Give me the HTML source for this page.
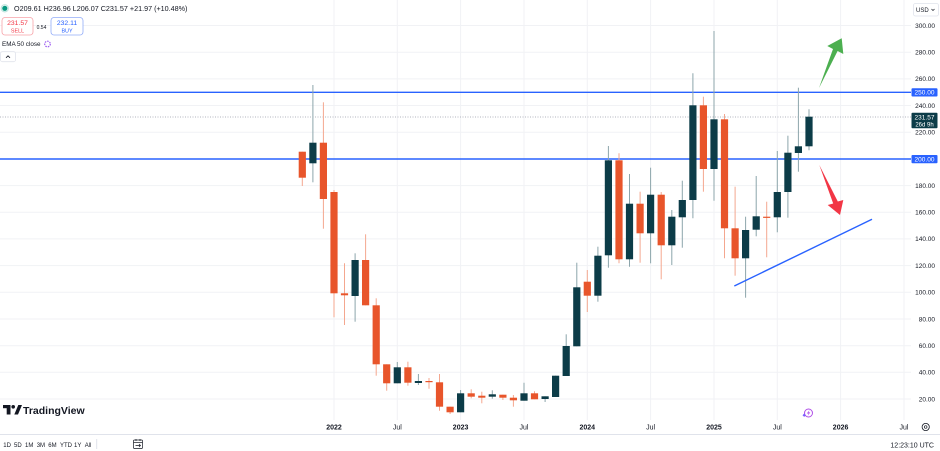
<!DOCTYPE html>
<html><head><meta charset="utf-8"><style>
html,body{margin:0;padding:0;background:#fff;}
body{width:940px;height:451px;overflow:hidden;font-family:"Liberation Sans",sans-serif;}
svg{display:block;}
text{font-family:"Liberation Sans",sans-serif;}
</style></head><body>
<svg width="940" height="451" viewBox="0 0 940 451" xmlns="http://www.w3.org/2000/svg">
<rect x="0" y="0" width="940" height="451" fill="#fff"/>
<!-- horizontal grid -->
<g stroke="#f1f2f5" stroke-width="1">
<line x1="0" y1="25.5" x2="911" y2="25.5"/><line x1="0" y1="52.2" x2="911" y2="52.2"/><line x1="0" y1="78.9" x2="911" y2="78.9"/><line x1="0" y1="105.5" x2="911" y2="105.5"/><line x1="0" y1="132.2" x2="911" y2="132.2"/><line x1="0" y1="185.6" x2="911" y2="185.6"/><line x1="0" y1="212.3" x2="911" y2="212.3"/><line x1="0" y1="238.9" x2="911" y2="238.9"/><line x1="0" y1="265.6" x2="911" y2="265.6"/><line x1="0" y1="292.3" x2="911" y2="292.3"/><line x1="0" y1="319" x2="911" y2="319"/><line x1="0" y1="345.7" x2="911" y2="345.7"/><line x1="0" y1="372.3" x2="911" y2="372.3"/><line x1="0" y1="399" x2="911" y2="399"/>
</g>
<!-- vertical grid -->
<g stroke="#f1f2f5" stroke-width="1">
<line x1="334" y1="0" x2="334" y2="420"/><line x1="397.3" y1="0" x2="397.3" y2="420"/><line x1="460.6" y1="0" x2="460.6" y2="420"/><line x1="524" y1="0" x2="524" y2="420"/><line x1="587.3" y1="0" x2="587.3" y2="420"/><line x1="650.6" y1="0" x2="650.6" y2="420"/><line x1="714" y1="0" x2="714" y2="420"/><line x1="777.3" y1="0" x2="777.3" y2="420"/><line x1="840.6" y1="0" x2="840.6" y2="420"/><line x1="904" y1="0" x2="904" y2="420"/>
</g>
<!-- current price dotted line -->
<line x1="0" y1="117" x2="911" y2="117" stroke="#b2b5be" stroke-width="1" stroke-dasharray="1,1.5"/>
<!-- horizontal levels -->
<line x1="0" y1="92.3" x2="911" y2="92.3" stroke="#2962ff" stroke-width="1.4"/>
<line x1="0" y1="159" x2="911" y2="159" stroke="#2962ff" stroke-width="1.4"/>

<!-- candles: wicks -->
<g stroke-width="1">
<line x1="302.3" y1="151.7" x2="302.3" y2="186" stroke="#f4a78f"/>
<line x1="312.9" y1="85" x2="312.9" y2="182.3" stroke="#8ca5ab"/>
<line x1="323.4" y1="102.3" x2="323.4" y2="228.7" stroke="#f4a78f"/>
<line x1="334" y1="190" x2="334" y2="317.3" stroke="#f4a78f"/>
<line x1="344.5" y1="263.3" x2="344.5" y2="325" stroke="#f4a78f"/>
<line x1="355.1" y1="253.3" x2="355.1" y2="321.7" stroke="#8ca5ab"/>
<line x1="365.6" y1="234.3" x2="365.6" y2="305.3" stroke="#f4a78f"/>
<line x1="376.2" y1="298.3" x2="376.2" y2="375.7" stroke="#f4a78f"/>
<line x1="386.7" y1="364.3" x2="386.7" y2="390.7" stroke="#f4a78f"/>
<line x1="397.3" y1="362" x2="397.3" y2="383.3" stroke="#8ca5ab"/>
<line x1="407.9" y1="361.7" x2="407.9" y2="385.7" stroke="#f4a78f"/>
<line x1="418.4" y1="374" x2="418.4" y2="385" stroke="#8ca5ab"/>
<line x1="429" y1="378" x2="429" y2="388.7" stroke="#f4a78f"/>
<line x1="439.5" y1="374" x2="439.5" y2="410.7" stroke="#f4a78f"/>
<line x1="450.1" y1="406.7" x2="450.1" y2="414" stroke="#f4a78f"/>
<line x1="460.6" y1="390" x2="460.6" y2="412.3" stroke="#8ca5ab"/>
<line x1="471.2" y1="389.3" x2="471.2" y2="398.3" stroke="#f4a78f"/>
<line x1="481.8" y1="391.7" x2="481.8" y2="403.3" stroke="#f4a78f"/>
<line x1="492.3" y1="390.3" x2="492.3" y2="398.7" stroke="#8ca5ab"/>
<line x1="502.9" y1="394.7" x2="502.9" y2="400" stroke="#f4a78f"/>
<line x1="513.4" y1="395" x2="513.4" y2="406.7" stroke="#f4a78f"/>
<line x1="524" y1="382.7" x2="524" y2="400.7" stroke="#8ca5ab"/>
<line x1="534.5" y1="391.3" x2="534.5" y2="399.3" stroke="#f4a78f"/>
<line x1="545.1" y1="396.3" x2="545.1" y2="402" stroke="#8ca5ab"/>
<line x1="555.6" y1="375.7" x2="555.6" y2="397" stroke="#8ca5ab"/>
<line x1="566.2" y1="334.3" x2="566.2" y2="376" stroke="#8ca5ab"/>
<line x1="576.8" y1="262.7" x2="576.8" y2="346.3" stroke="#8ca5ab"/>
<line x1="587.3" y1="270" x2="587.3" y2="312" stroke="#f4a78f"/>
<line x1="597.9" y1="246.7" x2="597.9" y2="301.7" stroke="#8ca5ab"/>
<line x1="608.4" y1="146" x2="608.4" y2="267.7" stroke="#8ca5ab"/>
<line x1="619" y1="153.3" x2="619" y2="263.3" stroke="#f4a78f"/>
<line x1="629.5" y1="174" x2="629.5" y2="266.7" stroke="#8ca5ab"/>
<line x1="640.1" y1="191.7" x2="640.1" y2="262.7" stroke="#f4a78f"/>
<line x1="650.6" y1="167.7" x2="650.6" y2="263.3" stroke="#8ca5ab"/>
<line x1="661.2" y1="192" x2="661.2" y2="279.3" stroke="#f4a78f"/>
<line x1="671.8" y1="210" x2="671.8" y2="265" stroke="#8ca5ab"/>
<line x1="682.3" y1="180.7" x2="682.3" y2="247.7" stroke="#8ca5ab"/>
<line x1="692.9" y1="73.3" x2="692.9" y2="218.3" stroke="#8ca5ab"/>
<line x1="703.4" y1="96.7" x2="703.4" y2="191.7" stroke="#f4a78f"/>
<line x1="714" y1="31" x2="714" y2="200.7" stroke="#8ca5ab"/>
<line x1="724.5" y1="114" x2="724.5" y2="258.3" stroke="#f4a78f"/>
<line x1="735.1" y1="186.7" x2="735.1" y2="275.7" stroke="#f4a78f"/>
<line x1="745.6" y1="216.7" x2="745.6" y2="297.7" stroke="#8ca5ab"/>
<line x1="756.2" y1="176" x2="756.2" y2="236.3" stroke="#8ca5ab"/>
<line x1="766.7" y1="201.7" x2="766.7" y2="257.3" stroke="#f4a78f"/>
<line x1="777.3" y1="151" x2="777.3" y2="232.3" stroke="#8ca5ab"/>
<line x1="787.9" y1="135.7" x2="787.9" y2="217.7" stroke="#8ca5ab"/>
<line x1="798.4" y1="87.7" x2="798.4" y2="171.7" stroke="#8ca5ab"/>
<line x1="809" y1="109.3" x2="809" y2="150.3" stroke="#8ca5ab"/>
</g>
<!-- candles: bodies -->
<g>
<rect x="298.7" y="151.7" width="7.2" height="26" fill="#e8552b"/>
<rect x="309.3" y="142.7" width="7.2" height="20.6" fill="#0c3c48"/>
<rect x="319.8" y="142.7" width="7.2" height="56.3" fill="#e8552b"/>
<rect x="330.4" y="192" width="7.2" height="101.3" fill="#e8552b"/>
<rect x="340.9" y="293.3" width="7.2" height="2" fill="#e8552b"/>
<rect x="351.5" y="260" width="7.2" height="36" fill="#0c3c48"/>
<rect x="362" y="260" width="7.2" height="45.3" fill="#e8552b"/>
<rect x="372.6" y="305.3" width="7.2" height="59" fill="#e8552b"/>
<rect x="383.1" y="364.3" width="7.2" height="19" fill="#e8552b"/>
<rect x="393.7" y="367.3" width="7.2" height="16" fill="#0c3c48"/>
<rect x="404.3" y="367.3" width="7.2" height="15.4" fill="#e8552b"/>
<rect x="414.8" y="381" width="7.2" height="2" fill="#0c3c48"/>
<rect x="425.4" y="381" width="7.2" height="1.2" fill="#e8552b"/>
<rect x="435.9" y="382.3" width="7.2" height="24.4" fill="#e8552b"/>
<rect x="446.5" y="406.7" width="7.2" height="5.6" fill="#e8552b"/>
<rect x="457" y="393.3" width="7.2" height="19" fill="#0c3c48"/>
<rect x="467.6" y="393.3" width="7.2" height="3.4" fill="#e8552b"/>
<rect x="478.2" y="395.7" width="7.2" height="2" fill="#e8552b"/>
<rect x="488.7" y="394.3" width="7.2" height="2.4" fill="#0c3c48"/>
<rect x="499.3" y="394.7" width="7.2" height="3" fill="#e8552b"/>
<rect x="509.8" y="397.7" width="7.2" height="2.6" fill="#e8552b"/>
<rect x="520.4" y="393.3" width="7.2" height="7.4" fill="#0c3c48"/>
<rect x="530.9" y="393.3" width="7.2" height="6" fill="#e8552b"/>
<rect x="541.5" y="396.3" width="7.2" height="2.7" fill="#0c3c48"/>
<rect x="552" y="375.7" width="7.2" height="21.3" fill="#0c3c48"/>
<rect x="562.6" y="346" width="7.2" height="30" fill="#0c3c48"/>
<rect x="573.2" y="287.3" width="7.2" height="59" fill="#0c3c48"/>
<rect x="583.7" y="281.7" width="7.2" height="14" fill="#e8552b"/>
<rect x="594.3" y="255.7" width="7.2" height="40" fill="#0c3c48"/>
<rect x="604.8" y="160.3" width="7.2" height="95" fill="#0c3c48"/>
<rect x="615.4" y="160.3" width="7.2" height="99" fill="#e8552b"/>
<rect x="625.9" y="203.7" width="7.2" height="55.6" fill="#0c3c48"/>
<rect x="636.5" y="203.7" width="7.2" height="29.6" fill="#e8552b"/>
<rect x="647" y="194.7" width="7.2" height="38.6" fill="#0c3c48"/>
<rect x="657.6" y="194.7" width="7.2" height="50.6" fill="#e8552b"/>
<rect x="668.2" y="216.7" width="7.2" height="28.6" fill="#0c3c48"/>
<rect x="678.7" y="200" width="7.2" height="17.3" fill="#0c3c48"/>
<rect x="689.3" y="105.3" width="7.2" height="94.7" fill="#0c3c48"/>
<rect x="699.8" y="105.3" width="7.2" height="63.7" fill="#e8552b"/>
<rect x="710.4" y="119.3" width="7.2" height="49.7" fill="#0c3c48"/>
<rect x="720.9" y="119.3" width="7.2" height="109" fill="#e8552b"/>
<rect x="731.5" y="228.3" width="7.2" height="30" fill="#e8552b"/>
<rect x="742" y="230" width="7.2" height="28.3" fill="#0c3c48"/>
<rect x="752.6" y="216.3" width="7.2" height="13.4" fill="#0c3c48"/>
<rect x="763.1" y="216.7" width="7.2" height="1.2" fill="#e8552b"/>
<rect x="773.7" y="192" width="7.2" height="25.3" fill="#0c3c48"/>
<rect x="784.3" y="152.7" width="7.2" height="39.3" fill="#0c3c48"/>
<rect x="794.8" y="146.3" width="7.2" height="6.7" fill="#0c3c48"/>
<rect x="805.4" y="116.7" width="7.2" height="29.6" fill="#0c3c48"/>
</g>

<!-- trend line -->
<line x1="734.3" y1="286" x2="872" y2="219.3" stroke="#2962ff" stroke-width="1.4"/>
<!-- arrows -->
<polygon points="819,88 833,49 827.3,46 841.7,38.3 843.3,54 837.6,51" fill="#4caf50"/>
<polygon points="819.3,165 833.2,203.5 827.7,205 840,215 843.3,200 837.8,201.5" fill="#f23645"/>

<!-- purple icon -->
<circle cx="808.5" cy="413" r="4" fill="#fff" stroke="#b04fe8" stroke-width="1"/>
<polygon points="809.5,410 806.8,413.5 808.6,413.5 807.6,416 810.3,412.4 808.6,412.4" fill="#b04fe8"/>
<rect x="803" y="414" width="2.4" height="2.4" fill="#7b5cff" transform="rotate(45 804.2 415.2)"/>

<!-- price axis labels -->
<g font-size="6.5" fill="#131722" text-anchor="end">
<text x="935" y="27.8">300.00</text>
<text x="935" y="54.5">280.00</text>
<text x="935" y="81.2">260.00</text>
<text x="935" y="107.8">240.00</text>
<text x="935" y="134.5">220.00</text>
<text x="935" y="187.9">180.00</text>
<text x="935" y="214.6">160.00</text>
<text x="935" y="241.2">140.00</text>
<text x="935" y="267.9">120.00</text>
<text x="935" y="294.6">100.00</text>
<text x="935" y="321.3">80.00</text>
<text x="935" y="348">60.00</text>
<text x="935" y="374.6">40.00</text>
<text x="935" y="401.3">20.00</text>
</g>
<rect x="911.5" y="88.3" width="26" height="8.2" rx="1" fill="#2962ff"/>
<text x="924.5" y="94.7" font-size="6.5" fill="#fff" text-anchor="middle">250.00</text>
<rect x="911.5" y="155" width="26" height="8.2" rx="1" fill="#2962ff"/>
<text x="924.5" y="161.4" font-size="6.5" fill="#fff" text-anchor="middle">200.00</text>
<rect x="911.5" y="112.7" width="26" height="15.6" rx="1" fill="#0c3c48"/>
<text x="924.5" y="119.6" font-size="6.5" fill="#fff" text-anchor="middle">231.57</text>
<text x="924.5" y="126.4" font-size="6" fill="#fff" text-anchor="middle">26d 9h</text>

<!-- USD -->
<rect x="913.5" y="3.5" width="25" height="12.5" rx="2" fill="#fff" stroke="#e0e3eb" stroke-width="0.8"/>
<text x="916" y="12" font-size="6" fill="#131722">USD</text>
<path d="M931.5 9 L933 10.5 L934.5 9" fill="none" stroke="#131722" stroke-width="0.7"/>

<!-- time axis -->
<g font-size="7" fill="#131722" text-anchor="middle">
<text x="334" y="429.5" font-weight="bold">2022</text>
<text x="397.3" y="429.5">Jul</text>
<text x="460.6" y="429.5" font-weight="bold">2023</text>
<text x="524" y="429.5">Jul</text>
<text x="587.3" y="429.5" font-weight="bold">2024</text>
<text x="650.6" y="429.5">Jul</text>
<text x="714" y="429.5" font-weight="bold">2025</text>
<text x="777.3" y="429.5">Jul</text>
<text x="840.6" y="429.5" font-weight="bold">2026</text>
<text x="904" y="429.5">Jul</text>
</g>
<circle cx="925.7" cy="427" r="3.6" fill="none" stroke="#131722" stroke-width="0.8"/>
<circle cx="925.7" cy="427" r="1.3" fill="none" stroke="#131722" stroke-width="0.7"/>

<line x1="0" y1="434.5" x2="940" y2="434.5" stroke="#e0e3eb" stroke-width="1"/>

<!-- bottom toolbar -->
<g font-size="6" fill="#131722">
<text x="3.3" y="446.8">1D</text>
<text x="14" y="446.8">5D</text>
<text x="25" y="446.8">1M</text>
<text x="36.7" y="446.8">3M</text>
<text x="48.3" y="446.8">6M</text>
<text x="60" y="446.8">YTD</text>
<text x="74" y="446.8">1Y</text>
<text x="84.7" y="446.8">All</text>
</g>
<line x1="96.7" y1="439" x2="96.7" y2="449" stroke="#e0e3eb" stroke-width="1"/>
<g fill="none" stroke="#131722" stroke-width="0.7">
<rect x="133.5" y="440" width="9" height="8.5" rx="1"/>
<line x1="133.5" y1="442.5" x2="142.5" y2="442.5"/>
<line x1="136" y1="439" x2="136" y2="441"/>
<line x1="140" y1="439" x2="140" y2="441"/>
<path d="M135.5 445.5 H140.5 M139 444 L140.5 445.5 L139 447"/>
</g>
<text x="934" y="447.5" font-size="7" fill="#131722" text-anchor="end">12:23:10 UTC</text>

<!-- TradingView logo -->
<g fill="#131722">
<rect x="3" y="405" width="7.5" height="3.2"/>
<rect x="6.7" y="405" width="3.8" height="9.5"/>
<circle cx="13.2" cy="406.8" r="1.8"/>
<polygon points="14.3,414.5 18.3,405 22,405 18,414.5"/>
</g>
<text x="23" y="414.2" font-size="10.5" font-weight="bold" fill="#131722">TradingView</text>

<!-- legend -->
<circle cx="4.8" cy="8.3" r="2.6" fill="#089981"/>
<circle cx="4.8" cy="8.3" r="3.6" fill="none" stroke="#089981" stroke-opacity="0.25" stroke-width="1.2"/>
<text x="14" y="10.8" font-size="7.2" fill="#131722">O209.61 H236.96 L206.07 C231.57 +21.97 (+10.48%)</text>
<rect x="2" y="17.5" width="31" height="17.5" rx="3" fill="#fff" stroke="#f7a3a9" stroke-width="0.8"/>
<text x="17.5" y="25" font-size="6.8" fill="#f23645" text-anchor="middle">231.57</text>
<text x="17.5" y="32.4" font-size="5.4" fill="#f23645" text-anchor="middle">SELL</text>
<text x="41.5" y="29" font-size="5" fill="#131722" text-anchor="middle">0.54</text>
<rect x="51" y="17.5" width="32" height="17.5" rx="3" fill="#fff" stroke="#92acf9" stroke-width="0.8"/>
<text x="67" y="25" font-size="6.8" fill="#2962ff" text-anchor="middle">232.11</text>
<text x="67" y="32.4" font-size="5.4" fill="#2962ff" text-anchor="middle">BUY</text>
<text x="2" y="46.2" font-size="6.3" fill="#131722">EMA 50 close</text>
<circle cx="47.5" cy="44" r="2.8" fill="none" stroke="#9c5cf0" stroke-width="1.2" stroke-dasharray="1.5,1"/>
<rect x="0.5" y="51.7" width="15" height="10" rx="2" fill="#fff" stroke="#e0e3eb" stroke-width="0.8"/>
<path d="M6 57.8 L8 55.8 L10 57.8" fill="none" stroke="#131722" stroke-width="0.8"/>
</svg>
</body></html>
